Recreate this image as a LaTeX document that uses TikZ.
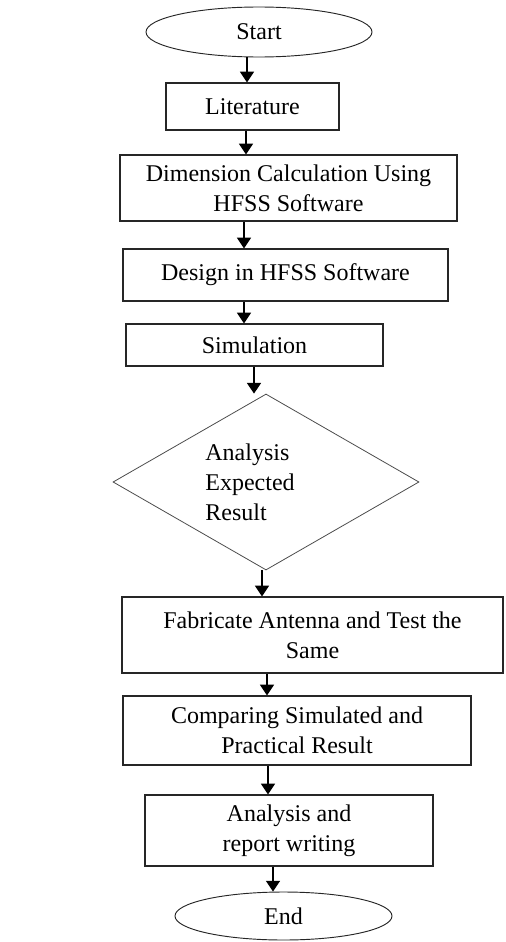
\documentclass[tikz,border=0pt]{standalone}
\usepackage{fontspec}
\setmainfont{Liberation Serif}
\usetikzlibrary{shapes.geometric,arrows.meta}
\begin{document}
\begin{tikzpicture}[x=0.75pt,y=-0.75pt,
        font=\fontsize{18}{22.5}\selectfont,
        box/.style={draw=black!85,line width=0.9pt,align=center,inner sep=0pt},
        term/.style={box,ellipse,line width=0.7pt},
        arrow/.style={line width=1pt,-{Triangle[width=10.5pt,length=8pt]}}]
        \useasboundingbox (0,0) rectangle (506,942);

        \node[term,minimum width=226*0.75pt,minimum height=50*0.75pt] (start) at (259,32) {Start};
        \node[box,minimum width=173*0.75pt,minimum height=47*0.75pt] (lit) at (252.5,106.5) {Literature};
        \node[box,minimum width=337*0.75pt,minimum height=66*0.75pt] (dim) at (288.5,188) {Dimension Calculation Using\\HFSS Software};
        \node[box,minimum width=325*0.75pt,minimum height=52*0.75pt] (des) at (285.5,275) {Design in HFSS Software};
        \node[box,minimum width=257*0.75pt,minimum height=42*0.75pt] (sim) at (254.5,345) {Simulation};
        \node[box,diamond,draw=black!70,line width=0.6pt,minimum width=306*0.75pt,minimum height=176*0.75pt] (chk) at (266,482) {};
        \node[align=left,inner sep=0pt] (chktext) at (250,482) {Analysis\\Expected\\Result};
        \node[box,minimum width=381*0.75pt,minimum height=76*0.75pt] (fab) at (312.5,635) {Fabricate Antenna and Test the\\Same};
        \node[box,minimum width=348*0.75pt,minimum height=69*0.75pt] (cmp) at (297,730.5) {Comparing Simulated and\\Practical Result};
        \node[box,minimum width=288*0.75pt,minimum height=71*0.75pt] (rep) at (289,830.5) {Analysis and\\report writing};
        \node[term,minimum width=217*0.75pt,minimum height=48*0.75pt] (stop) at (283.5,916) {End};

        \draw[arrow] (start.south -| 247,0) -- (lit.north -| 247,0);
        \draw[arrow] (lit.south -| 246,0) -- (dim.north -| 246,0);
        \draw[arrow] (dim.south -| 244,0) -- (des.north -| 244,0);
        \draw[arrow] (des.south -| 244,0) -- (sim.north -| 244,0);
        \draw[arrow] (sim.south -| 254,0) -- (chk.north -| 254,0);
        \draw[arrow] (chk.south -| 262,0) -- (fab.north -| 262,0);
        \draw[arrow] (fab.south -| 267,0) -- (cmp.north -| 267,0);
        \draw[arrow] (cmp.south -| 268,0) -- (rep.north -| 268,0);
        \draw[arrow] (rep.south -| 273,0) -- (stop.north -| 273,0);
    \end{tikzpicture}
\end{document}
